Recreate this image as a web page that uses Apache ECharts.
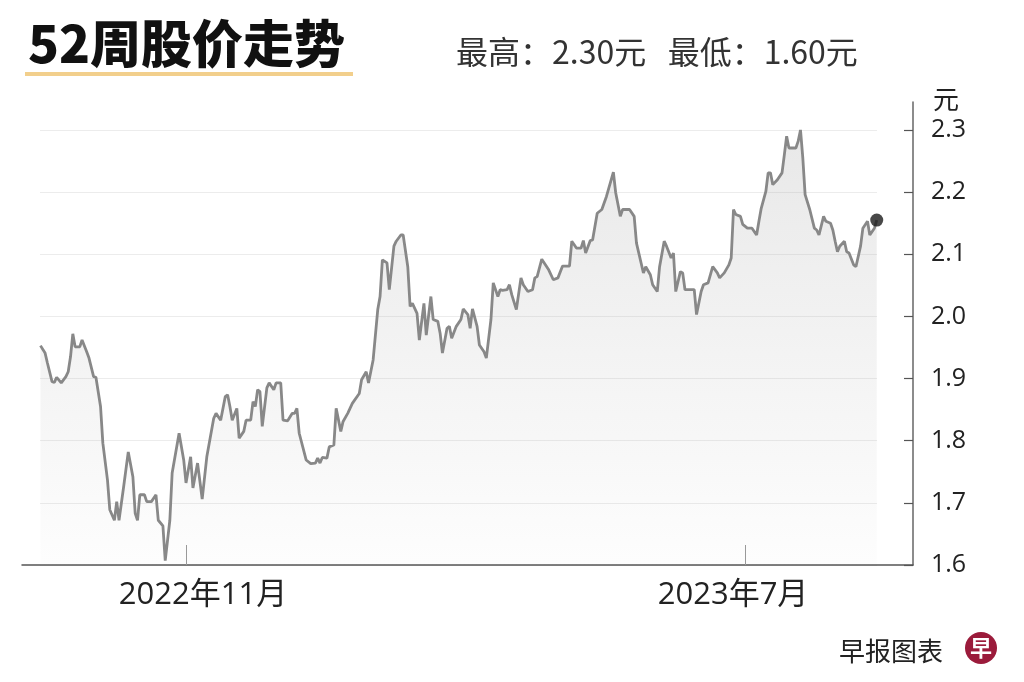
<!DOCTYPE html>
<html><head><meta charset="utf-8">
<script src="https://cdn.jsdelivr.net/npm/echarts@6/dist/echarts.min.js"></script>
<style>html,body{margin:0;padding:0;background:#fff}#c{width:1024px;height:682px}</style>
</head><body><div id="c"></div>
<script>
// ---- data ----
const dates = [
'2022-08-30','2022-09-01','2022-09-02','2022-09-04','2022-09-05','2022-09-06','2022-09-08','2022-09-10','2022-09-11','2022-09-12',
'2022-09-13','2022-09-14','2022-09-16','2022-09-17','2022-09-19','2022-09-20','2022-09-22','2022-09-23','2022-09-25','2022-09-26',
'2022-09-28','2022-09-29','2022-10-01','2022-10-02','2022-10-03','2022-10-05','2022-10-07','2022-10-09','2022-10-10','2022-10-11',
'2022-10-12','2022-10-14','2022-10-15','2022-10-17','2022-10-19','2022-10-20','2022-10-22','2022-10-23','2022-10-25','2022-10-26',
'2022-10-29','2022-10-31','2022-11-01','2022-11-03','2022-11-04','2022-11-06','2022-11-07','2022-11-08','2022-11-10','2022-11-13',
'2022-11-14','2022-11-16','2022-11-18','2022-11-19','2022-11-20','2022-11-21','2022-11-23','2022-11-24','2022-11-26','2022-11-27',
'2022-11-29','2022-11-30','2022-12-01','2022-12-02','2022-12-03','2022-12-04','2022-12-06','2022-12-07','2022-12-09','2022-12-10',
'2022-12-12','2022-12-13','2022-12-15','2022-12-17','2022-12-18','2022-12-19','2022-12-20','2022-12-23','2022-12-25','2022-12-27',
'2022-12-28','2022-12-29','2022-12-30','2023-01-01','2023-01-02','2023-01-04','2023-01-05','2023-01-07','2023-01-08','2023-01-10',
'2023-01-12','2023-01-15','2023-01-16','2023-01-18','2023-01-19','2023-01-21','2023-01-23','2023-01-24','2023-01-25','2023-01-27',
'2023-01-28','2023-01-30','2023-01-31','2023-02-02','2023-02-03','2023-02-05','2023-02-06','2023-02-07','2023-02-09','2023-02-10',
'2023-02-12','2023-02-13','2023-02-15','2023-02-16','2023-02-18','2023-02-19','2023-02-20','2023-02-22','2023-02-23','2023-02-24',
'2023-02-26','2023-02-28','2023-03-01','2023-03-03','2023-03-04','2023-03-05','2023-03-07','2023-03-08','2023-03-10','2023-03-11',
'2023-03-13','2023-03-14','2023-03-16','2023-03-17','2023-03-18','2023-03-20','2023-03-21','2023-03-22','2023-03-24','2023-03-26',
'2023-03-27','2023-03-29','2023-03-31','2023-04-01','2023-04-02','2023-04-04','2023-04-07','2023-04-09','2023-04-11','2023-04-13',
'2023-04-16','2023-04-17','2023-04-19','2023-04-21','2023-04-22','2023-04-23','2023-04-25','2023-04-26','2023-04-28','2023-04-30',
'2023-05-02','2023-05-05','2023-05-06','2023-05-08','2023-05-09','2023-05-12','2023-05-14','2023-05-15','2023-05-17','2023-05-18',
'2023-05-19','2023-05-21','2023-05-22','2023-05-24','2023-05-25','2023-05-27','2023-05-28','2023-05-30','2023-05-31','2023-06-01',
'2023-06-03','2023-06-04','2023-06-05','2023-06-07','2023-06-09','2023-06-10','2023-06-12','2023-06-13','2023-06-15','2023-06-17',
'2023-06-19','2023-06-20','2023-06-22','2023-06-24','2023-06-25','2023-06-26','2023-06-27','2023-06-29','2023-06-30','2023-07-02',
'2023-07-04','2023-07-06','2023-07-07','2023-07-08','2023-07-10','2023-07-11','2023-07-12','2023-07-13','2023-07-15','2023-07-17',
'2023-07-18','2023-07-19','2023-07-20','2023-07-23','2023-07-24','2023-07-25','2023-07-26','2023-07-27','2023-07-29','2023-07-31',
'2023-08-01','2023-08-02','2023-08-04','2023-08-05','2023-08-07','2023-08-08','2023-08-09','2023-08-10','2023-08-11','2023-08-13',
'2023-08-14','2023-08-15','2023-08-17','2023-08-18','2023-08-20','2023-08-21','2023-08-23','2023-08-24','2023-08-26','2023-08-27'
];
const prices = [
1.953,1.941,1.925,1.895,1.894,1.902,1.893,1.903,1.911,1.935,
1.972,1.951,1.951,1.962,1.943,1.933,1.903,1.902,1.855,1.796,
1.737,1.689,1.672,1.702,1.672,1.726,1.782,1.742,1.683,1.672,
1.713,1.713,1.702,1.702,1.713,1.672,1.663,1.607,1.672,1.748,
1.812,1.769,1.732,1.774,1.724,1.764,1.735,1.706,1.774,1.836,
1.844,1.833,1.871,1.874,1.855,1.833,1.852,1.804,1.815,1.833,
1.833,1.863,1.855,1.882,1.879,1.823,1.885,1.893,1.882,1.893,
1.893,1.833,1.832,1.844,1.844,1.852,1.812,1.769,1.763,1.764,
1.772,1.764,1.773,1.772,1.790,1.793,1.852,1.815,1.831,1.844,
1.860,1.876,1.898,1.911,1.893,1.930,2.011,2.032,2.091,2.086,
2.043,2.113,2.121,2.131,2.131,2.080,2.016,2.021,2.005,1.962,
2.021,1.970,2.032,1.995,1.992,1.973,1.941,1.981,1.984,1.965,
1.984,1.995,2.012,2.003,1.981,2.012,1.984,1.954,1.943,1.933,
1.995,2.054,2.032,2.043,2.042,2.043,2.051,2.035,2.011,2.062,
2.051,2.040,2.043,2.062,2.064,2.092,2.075,2.059,2.062,2.081,
2.081,2.121,2.110,2.110,2.122,2.102,2.122,2.123,2.166,2.172,
2.193,2.232,2.199,2.161,2.172,2.172,2.161,2.118,2.086,2.070,
2.080,2.067,2.051,2.040,2.080,2.121,2.113,2.094,2.102,2.040,
2.072,2.070,2.043,2.043,2.043,2.003,2.040,2.051,2.054,2.080,
2.070,2.062,2.070,2.083,2.094,2.172,2.164,2.161,2.148,2.142,
2.142,2.131,2.153,2.174,2.201,2.231,2.231,2.212,2.220,2.231,
2.260,2.290,2.271,2.271,2.282,2.300,2.255,2.196,2.172,2.142,
2.139,2.131,2.161,2.153,2.150,2.139,2.121,2.104,2.113,2.121,
2.104,2.102,2.083,2.080,2.113,2.142,2.153,2.131,2.142,2.155
];
const yTickValues = [1.6, 1.7, 1.8, 1.9, 2.0, 2.1, 2.2, 2.3];
const xTickDates = ['2022-11-01', '2023-07-01'];
const xRange = ['2022-08-22', '2023-09-11'];
const titleText = '52周股价走势';
const rangeText = '最高：2.30元   最低：1.60元';
const sourceText = '早报图表';
const unitText = '元';

// ---- helpers ----
const ts = s => { const [y, m, d] = s.split('-').map(Number); return new Date(y, m - 1, d).getTime(); };
const seriesData = dates.map((d, i) => [ts(d), prices[i]]);
const last = seriesData[seriesData.length - 1];
const xTicks = xTickDates.map(ts);

const chart = echarts.init(document.getElementById('c'), null, { renderer: 'canvas' });
chart.setOption({
  backgroundColor: '#ffffff',
  animation: false,
  title: [
    { text: titleText, left: 23, top: 13,
      textStyle: { fontFamily: 'Noto Sans CJK SC', fontSize: 51, fontWeight: 900, color: '#111' } },
    { text: rangeText, left: 451, top: 31,
      textStyle: { fontFamily: 'Noto Sans CJK SC', fontSize: 32, fontWeight: 'normal', color: '#333' } },
    { text: sourceText, left: 834, top: 633,
      textStyle: { fontFamily: 'Noto Sans CJK SC', fontSize: 26, fontWeight: 'normal', color: '#222' } }
  ],
  graphic: [
    { type: 'rect', left: 25, top: 72, shape: { width: 328, height: 4 }, style: { fill: '#f2cf8c' } },
    { type: 'circle', left: 965, top: 632, shape: { r: 16 }, style: { fill: '#9b1b3b' } },
    { type: 'text', left: 970, top: 637, style: { text: '早', fill: '#fff', font: 'bold 22px "Noto Sans CJK SC"' } }
  ],
  grid: [
    { left: 22, right: 111, top: 102, bottom: 117, containLabel: false, outerBoundsMode: 'none' },
    { left: 40, right: 147, top: 130, bottom: 117, containLabel: false, outerBoundsMode: 'none' }
  ],
  xAxis: [
    { type: 'value', gridIndex: 0, min: ts(xRange[0]), max: ts(xRange[1]) + 0.7 * 864e5,
      axisLine: { show: true, lineStyle: { color: '#555', width: 1.5 } },
      axisTick: { show: true, inside: true, length: 20, customValues: xTicks, lineStyle: { color: '#999', width: 1 } },
      axisLabel: { show: true, customValues: xTicks, margin: 15,
        formatter: v => { const d = new Date(v); const s = d.getFullYear() + '年' + (d.getMonth() + 1) + '月';
          return d.getFullYear() === 2022 ? '{a|' + s + '}' : '{b|' + s + '}'; },
        rich: {
          a: { fontFamily: 'Open Sans, Noto Sans CJK SC', fontSize: 31, color: '#222', padding: [0, 0, 0, 34] },
          b: { fontFamily: 'Open Sans, Noto Sans CJK SC', fontSize: 31, color: '#222', padding: [0, 24, 0, 0] }
        } },
      splitLine: { show: false }
    },
    { type: 'value', gridIndex: 1, show: false, min: 0, max: 1 }
  ],
  yAxis: [
    { type: 'value', gridIndex: 0, position: 'right', min: 1.6, max: 2.345,
      name: unitText, nameLocation: 'end', nameGap: -10,
      nameTextStyle: { fontFamily: 'Noto Sans CJK SC', fontSize: 26, color: '#222', align: 'left', padding: [0, 0, 0, 20] },
      axisLine: { show: true, lineStyle: { color: '#666', width: 1.5 } },
      axisTick: { show: true, inside: true, length: 9, customValues: yTickValues, lineStyle: { color: '#555', width: 1.2 } },
      axisLabel: { show: true, customValues: yTickValues, margin: 18, formatter: v => v.toFixed(1),
        fontFamily: 'Open Sans', fontSize: 25, color: '#222' },
      splitLine: { show: false }
    },
    { type: 'value', gridIndex: 1, min: 1.6, max: 2.3, interval: 0.1,
      axisLine: { show: false }, axisTick: { show: false }, axisLabel: { show: false },
      splitLine: { show: true, lineStyle: { color: '#ececec', width: 1.2 } }
    }
  ],
  series: [
    { type: 'line', xAxisIndex: 0, yAxisIndex: 0, data: seriesData, showSymbol: false, symbol: 'none',
      lineStyle: { color: '#888888', width: 2.8 },
      areaStyle: { color: new echarts.graphic.LinearGradient(0, 0, 0, 1, [
        { offset: 0, color: 'rgba(170,170,170,0.38)' },
        { offset: 1, color: 'rgba(170,170,170,0.03)' }]) },
      z: 3 },
    { type: 'scatter', xAxisIndex: 0, yAxisIndex: 0, data: [last], symbol: 'circle', symbolSize: 13,
      itemStyle: { color: '#1a1a1a' }, z: 4 }
  ]
});
</script></body></html>
